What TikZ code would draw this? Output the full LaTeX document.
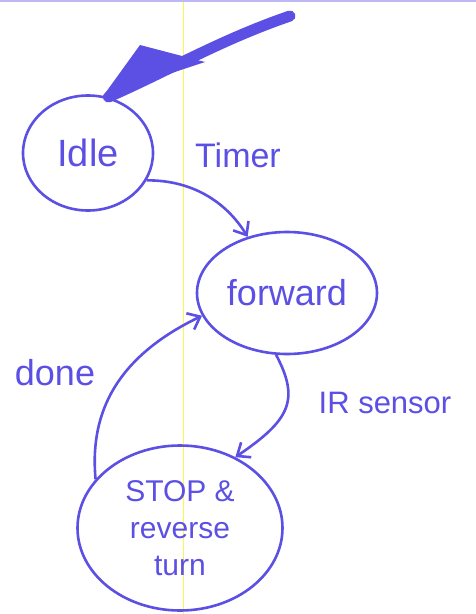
\documentclass[tikz,border=0pt]{standalone}
\usepackage{fontspec}
\setmainfont{Liberation Sans}
\usetikzlibrary{arrows.meta,shapes.geometric}
\definecolor{ink}{RGB}{92,80,228}
\begin{document}
\begin{tikzpicture}[x=1pt,y=-1pt,
  state/.style={draw=ink,line width=2.6pt,ellipse,inner sep=0pt,text=ink,font=\fontsize{36}{38}\selectfont},
  trans/.style={draw=ink,line width=2.6pt,-{Straight Barb[length=11pt,width=18pt,line width=2.6pt]}},
  lbl/.style={text=ink,font=\fontsize{34}{36}\selectfont,inner sep=0pt}]
\useasboundingbox (0,0) rectangle (476,614);
\fill[white] (0,0) rectangle (476,614);
\draw[yellow!70!white,line width=0.8pt] (183,0) -- (183,614);
\draw[ink!40,line width=1.5pt] (0,1) -- (476,1);
\node[state,minimum width=130pt,minimum height=115pt,font=\fontsize{38}{40}\selectfont] (idle) at (88,153) {Idle};
\node[state,minimum width=180pt,minimum height=122pt] (fwd) at (287,293) {forward};
\node[state,minimum width=205pt,minimum height=165pt,align=center,font=\fontsize{30}{37}\selectfont] (stop) at (180,528) {STOP \&\\reverse\\turn};
\coordinate (start) at (290,16);
\draw[ink,line width=11pt,line cap=round] (start) .. controls (220,40) and (170,70) .. (idle.70);
\fill[ink] (idle.75) -- (140,45) -- (205,62) -- cycle;
\draw[trans] (idle.-25) .. controls (190,180) and (225,200) .. (fwd.125);
\node[lbl] (timer) at (238,155) {Timer};
\draw[trans] (fwd.-100) .. controls (300,400) and (290,420) .. (stop.52);
\node[lbl,font=\fontsize{31}{33}\selectfont] (ir) at (385,403) {IR sensor};
\draw[trans] (stop.150) .. controls (90,420) and (110,360) .. (fwd.195);
\node[lbl,font=\fontsize{36}{38}\selectfont] (done) at (55,373) {done};
\end{tikzpicture}
\end{document}
